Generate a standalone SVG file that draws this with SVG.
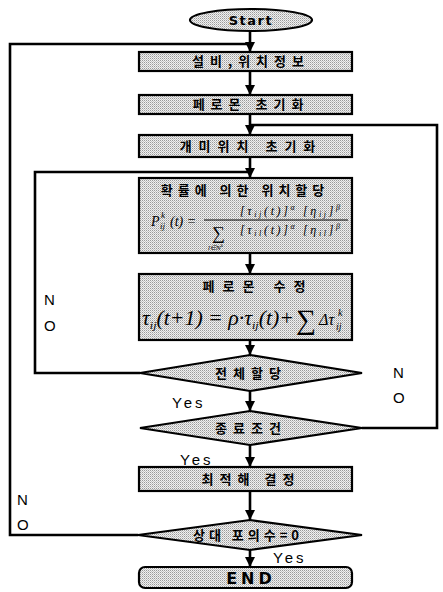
<svg xmlns="http://www.w3.org/2000/svg" width="443" height="592" viewBox="0 0 443 592">
<defs>
<pattern id="ht" width="2" height="2" patternUnits="userSpaceOnUse">
<rect width="2" height="2" fill="#f0f0f0"/>
<rect width="1" height="1" fill="#9a9a9a"/>
<rect x="1" y="1" width="1" height="1" fill="#c4c4c4"/>
</pattern>
<marker id="ah" markerUnits="userSpaceOnUse" markerWidth="12" markerHeight="10" refX="10" refY="5" orient="auto">
<path d="M0,0 L10,5 L0,10 z" fill="#000"/>
</marker>
<style>
.box{fill:url(#ht);stroke:#000;stroke-width:2.2}
.ln{fill:none;stroke:#000;stroke-width:2.6}
.kr{font-family:"Noto Sans CJK KR",sans-serif;font-weight:bold;font-size:13px;fill:#000}
.lbl{font-family:"Liberation Sans",Arial,sans-serif;font-size:15px;fill:#000}
.m{font-family:"Liberation Serif","Times New Roman",serif;font-style:italic;fill:#000}
.bk{font-family:"DejaVu Sans",sans-serif;font-weight:bold;fill:#000}
</style>
</defs>
<g id="connectors">
<path class="ln" d="M250,31 V52" marker-end="url(#ah)"/>
<path class="ln" d="M250,71 V95" marker-end="url(#ah)"/>
<path class="ln" d="M250,114 V135" marker-end="url(#ah)"/>
<path class="ln" d="M250,157 V178" marker-end="url(#ah)"/>
<path class="ln" d="M250,253 V274" marker-end="url(#ah)"/>
<path class="ln" d="M250,340 V355" marker-end="url(#ah)"/>
<path class="ln" d="M250,391 V411" marker-end="url(#ah)"/>
<path class="ln" d="M250,445 V467" marker-end="url(#ah)"/>
<path class="ln" d="M250,491 V520" marker-end="url(#ah)"/>
<path class="ln" d="M250,550 V567" marker-end="url(#ah)"/>
<path class="ln" d="M138,535 H10 V44 H250"/>
<path class="ln" d="M140,373 H35 V172 H250"/>
<path class="ln" d="M362,428 H437 V125 H250"/>
<text class="lbl" x="172" y="408" letter-spacing="3">Yes</text>
<text class="lbl" x="180" y="465" letter-spacing="3">Yes</text>
<text class="lbl" x="273" y="563" letter-spacing="3">Yes</text>
<text class="lbl" x="44" y="305">N</text>
<text class="lbl" x="44" y="331">O</text>
<text class="lbl" x="17" y="505">N</text>
<text class="lbl" x="17" y="530">O</text>
<text class="lbl" x="393" y="378">N</text>
<text class="lbl" x="393" y="403">O</text>
</g>
<g id="start">
<ellipse class="box" cx="251" cy="20" rx="61" ry="11"/>
<text class="bk" x="251" y="25" font-size="13" text-anchor="middle" letter-spacing="1.5">Start</text>
</g>
<g id="n1">
<rect class="box" x="139" y="52" width="213" height="19"/>
<text class="kr" x="251" y="66" text-anchor="middle" letter-spacing="6">설비,위치정보</text>
</g>
<g id="n2">
<rect class="box" x="139" y="95" width="213" height="19"/>
<text class="kr" x="251" y="109" text-anchor="middle" letter-spacing="6">페로몬 초기화</text>
</g>
<g id="n3">
<rect class="box" x="139" y="135" width="213" height="22"/>
<text class="kr" x="251" y="151" text-anchor="middle" letter-spacing="7">개미위치 초기화</text>
</g>
<g id="n4">
<rect class="box" x="139" y="178" width="213" height="75"/>
<text class="kr" x="245" y="195" text-anchor="middle" letter-spacing="5">확률에 의한 위치할당</text>
<text class="m" x="151" y="226" font-size="14">P</text>
<text class="m" x="160" y="229" font-size="9">ij</text>
<text class="m" x="161" y="218" font-size="9">k</text>
<text class="m" x="170" y="226" font-size="14">(t) =</text>
<line x1="204" y1="220" x2="348" y2="220" stroke="#000" stroke-width="1.2"/>
<text class="m" x="240" y="215" font-size="12" textLength="100" lengthAdjust="spacing">[τ<tspan font-size="8" dy="2">ij</tspan><tspan dy="-2">(t)]</tspan><tspan font-size="8" dy="-5">α</tspan><tspan dy="5"> [η</tspan><tspan font-size="8" dy="2">ij</tspan><tspan dy="-2">]</tspan><tspan font-size="8" dy="-5">β</tspan></text>
<text x="212" y="239" font-size="18" font-family="Liberation Serif,serif">∑</text>
<text class="m" x="208" y="250" font-size="7">l∈N<tspan font-size="5" dy="-3">k</tspan></text>
<text class="m" x="240" y="234" font-size="12" textLength="100" lengthAdjust="spacing">[τ<tspan font-size="8" dy="2">il</tspan><tspan dy="-2">(t)]</tspan><tspan font-size="8" dy="-5">α</tspan><tspan dy="5"> [η</tspan><tspan font-size="8" dy="2">il</tspan><tspan dy="-2">]</tspan><tspan font-size="8" dy="-5">β</tspan></text>
</g>
<g id="n5">
<rect class="box" x="139" y="274" width="213" height="66"/>
<text class="kr" x="258" y="291" text-anchor="middle" letter-spacing="8">페로몬 수정</text>
<text class="m" x="142" y="325" font-size="20" textLength="152" lengthAdjust="spacingAndGlyphs">τ<tspan font-size="11" dy="4">ij</tspan><tspan dy="-4">(t+1) = ρ·τ</tspan><tspan font-size="11" dy="4">ij</tspan><tspan dy="-4">(t)+</tspan></text>
<text x="296" y="329" font-size="28" font-family="Liberation Serif,serif">∑</text>
<text class="m" x="319" y="325" font-size="16">Δτ</text>
<text class="m" x="336" y="330" font-size="10">ij</text>
<text class="m" x="338" y="316" font-size="10">k</text>
</g>
<g id="d1">
<polygon class="box" points="140,373 250,355 362,373 250,391"/>
<text class="kr" x="251" y="378" text-anchor="middle" letter-spacing="6">전체할당</text>
</g>
<g id="d2">
<polygon class="box" points="140,428 250,411 362,428 250,445"/>
<text class="kr" x="251" y="433" text-anchor="middle" letter-spacing="6">종료조건</text>
</g>
<g id="n6">
<rect class="box" x="139" y="467" width="213" height="24"/>
<text class="kr" x="251" y="484" text-anchor="middle" letter-spacing="6">최적해 결정</text>
</g>
<g id="d3">
<polygon class="box" points="138,535 250,520 362,535 250,550"/>
<text class="kr" x="248" y="540" text-anchor="middle" font-size="12" letter-spacing="4" font-weight="normal">상대 포의수=0</text>
</g>
<g id="end">
<rect class="box" x="139" y="567" width="213" height="21" rx="6"/>
<text class="bk" x="251" y="584" font-size="16" text-anchor="middle" letter-spacing="4">END</text>
</g>
</svg>
